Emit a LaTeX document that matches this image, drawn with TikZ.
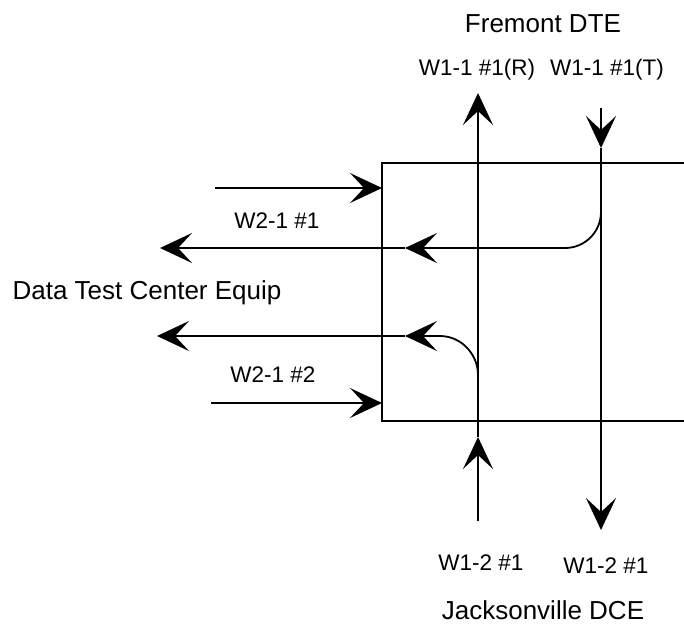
\documentclass[tikz,border=0pt]{standalone}
\usepackage{fontspec}
\setmainfont{Liberation Sans}
\usetikzlibrary{arrows.meta}
\begin{document}
\begin{tikzpicture}[x=1pt,y=-1pt,
  wire/.style={line width=1.8pt},
  arr/.style={wire,-{Stealth[length=32pt,width=30pt,inset=14pt]}},
  title/.style={font=\fontsize{26}{30}\selectfont, inner sep=0pt},
  lbl/.style={font=\fontsize{22.5}{27}\selectfont, inner sep=0pt}]
\useasboundingbox (0,0) rectangle (684,625);
% box (open to the right)
\coordinate (bTR) at (684,163);
\coordinate (bTL) at (382,163);
\coordinate (bBL) at (382,421);
\coordinate (bBR) at (684,421);
\draw[wire] (bTR) -- (bTL) -- (bBL) -- (bBR);
% R line
\coordinate (Rbot) at (478,521);
\coordinate (Rmid) at (478,437);
\coordinate (Rtop) at (478,93);
\draw[arr] (Rbot) -- (Rmid);
\draw[arr] (Rmid) -- (Rtop);
% T line
\coordinate (Ttop) at (601,108);
\coordinate (Tmid) at (601,148);
\coordinate (Tbot) at (601,530);
\draw[arr] (Ttop) -- (Tmid);
\draw[arr] (Tmid) -- (Tbot);
% branch 1
\coordinate (B1s) at (601,212);
\coordinate (B1e) at (565,248);
\coordinate (M1) at (405,248);
\coordinate (O1) at (160,248);
\draw[wire] (B1s) .. controls (601,231.9) and (584.9,248) .. (B1e);
\draw[arr] (B1e) -- (M1);
\draw[arr] (M1) -- (O1);
% branch 2
\coordinate (B2s) at (478,375);
\coordinate (B2e) at (440,336);
\coordinate (M2) at (405,336);
\coordinate (O2) at (157,336);
\draw[wire] (B2s) .. controls (478,354) and (461,336) .. (B2e);
\draw[arr] (B2e) -- (M2);
\draw[arr] (M2) -- (O2);
% inputs
\coordinate (I1s) at (215,188);
\coordinate (I1e) at (382,188);
\coordinate (I2s) at (211,403);
\coordinate (I2e) at (382,403);
\draw[arr] (I1s) -- (I1e);
\draw[arr] (I2s) -- (I2e);
% texts
\node[title] (fre) at (543,24) {Fremont DTE};
\node[lbl] (w11r) at (477,70) {W1-1 \#1(R)};
\node[lbl] (w11t) at (607,70) {W1-1 \#1(T)};
\node[lbl] (w21a) at (277,221) {W2-1 \#1};
\node[title] (dtc) at (147,293) {Data Test Center Equip};
\node[lbl] (w21b) at (273,375) {W2-1 \#2};
\node[lbl] (w12a) at (481,563) {W1-2 \#1};
\node[lbl] (w12b) at (606,566) {W1-2 \#1};
\node[title] (jax) at (543,610) {Jacksonville DCE};
\end{tikzpicture}
\end{document}
